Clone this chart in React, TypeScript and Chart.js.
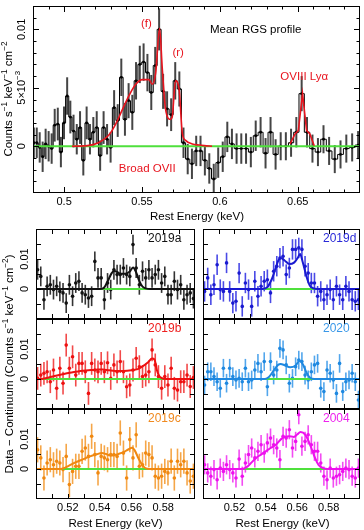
import React, { useEffect, useRef } from 'react';
import { Chart, registerables } from 'chart.js';

Chart.register(...registerables);

const W = 364;
const H = 530;
const FONT = '"Liberation Sans", Arial, Helvetica, sans-serif';
const GREEN = '#4fe03c';

// ---------------- Top panel: mean RGS profile (units of 1e-3), 0.1 Å bins ----------------
const meanEnergy = [
  0.48054, 0.48241, 0.4843, 0.4862, 0.48811, 0.49004, 0.49198, 0.49394, 0.49592, 0.49791,
  0.49992, 0.50194, 0.50398, 0.50604, 0.50811, 0.51021, 0.51231, 0.51444, 0.51658, 0.51874,
  0.52092, 0.52312, 0.52534, 0.52757, 0.52983, 0.5321, 0.5344, 0.53671, 0.53904, 0.5414,
  0.54377, 0.54617, 0.54858, 0.55102, 0.55348, 0.55596, 0.55847, 0.561, 0.56355, 0.56612,
  0.56872, 0.57134, 0.57398, 0.57665, 0.57935, 0.58207, 0.58481, 0.58758, 0.59038, 0.59321,
  0.59606, 0.59894, 0.60184, 0.60478, 0.60775, 0.61074, 0.61376, 0.61682, 0.6199, 0.62302,
  0.62616, 0.62934, 0.63255, 0.63579, 0.63907, 0.64238, 0.64573, 0.64911, 0.65253, 0.65598,
  0.65947, 0.66299, 0.66656, 0.67016, 0.6738, 0.67749, 0.68121, 0.68497, 0.68878,
];
const meanFlux = [
  0.3, 0.3, -0.1, -0.9, 0.2, 0.0, -0.2, 1.8, 1.9, -0.5,
  2.0, 4.3, 2.5, 1.3, 0.6, 1.6, -1.2, 2.0, 0.6, 1.2,
  1.6, -0.8, 1.6, 0.6, -0.1, 3.3, 2.2, 5.9, 2.3, 3.9,
  2.9, 5.6, 7.0, 7.2, 6.3, 4.6, 6.9, 10.0, 4.7, 3.2,
  2.7, 5.6, 4.9, 0.3, -1.1, -1.5, -0.4, -0.4, -1.2, -1.9,
  -2.8, -1.4, -0.9, 0.8, 0.2, -0.2, -0.2, -0.2, -0.5, 0.9,
  1.2, -0.6, 1.2, -0.7, 0.0, 0.0, 0.3, 1.2, 4.5, 1.2,
  -0.2, -0.5, 0.6, -0.4, -1.1, -0.7, -0.2, -0.1, 0.1,
];
const meanErr = [
  1.3, 1.3, 1.3, 1.3, 1.3, 1.3, 1.3, 1.4, 1.4, 1.3,
  1.4, 1.6, 1.4, 1.4, 1.3, 1.4, 1.3, 1.4, 1.3, 1.3,
  1.4, 1.3, 1.4, 1.3, 1.3, 1.5, 1.4, 1.6, 1.4, 1.5,
  1.5, 1.6, 1.6, 1.6, 1.6, 1.5, 1.6, 1.8, 1.5, 1.5,
  1.4, 1.6, 1.5, 1.3, 1.3, 1.3, 1.3, 1.3, 1.3, 1.3,
  1.3, 1.3, 1.3, 1.3, 1.3, 1.3, 1.3, 1.3, 1.3, 1.3,
  1.3, 1.3, 1.3, 1.3, 1.2, 1.2, 1.2, 1.3, 1.5, 1.3,
  1.2, 1.2, 1.2, 1.2, 1.2, 1.2, 1.2, 1.2, 1.2,
];
const meanModelEnergy = [
  0.505, 0.515, 0.522, 0.529, 0.5335, 0.5376, 0.5419, 0.546, 0.5502, 0.5545,
  0.5566, 0.5588, 0.5613, 0.563, 0.5651, 0.5683, 0.5694, 0.5715, 0.5738, 0.5759,
  0.578, 0.5823, 0.5866, 0.59, 0.595,
];
const meanModelFlux = [
  0.0, 0.05, 0.3, 1.0, 2.0, 3.2, 4.4, 5.3, 5.7, 5.7,
  5.3, 6.3, 10.1, 6.7, 3.2, 2.3, 2.5, 5.6, 4.9, 1.1,
  0.5, 0.2, 0.1, 0.05, 0.0,
];
const o8ModelEnergy = [0.6451, 0.6483, 0.6504, 0.6531, 0.6557, 0.6578, 0.6606];
const o8ModelFlux = [0.2, 1.05, 1.35, 4.5, 1.35, 1.05, 0.05];

// ---------------- Bottom panels: per-epoch profiles (units of 1e-3) ----------------
const epochEnergy = [
  0.501, 0.503, 0.505, 0.507, 0.509, 0.511, 0.513, 0.515, 0.517, 0.519,
  0.521, 0.523, 0.525, 0.527, 0.529, 0.531, 0.533, 0.535, 0.537, 0.539,
  0.541, 0.543, 0.545, 0.547, 0.549, 0.551, 0.553, 0.555, 0.557, 0.559,
  0.561, 0.563, 0.565, 0.567, 0.569, 0.571, 0.573, 0.575, 0.577, 0.579,
  0.581, 0.583, 0.585, 0.587, 0.589, 0.591, 0.593, 0.595, 0.597, 0.599,
];
const flux2019a = [
  6.4, 4.2, -3.6, 0.9, 1.4, -0.2, 0.9, -0.8, -1.3, -4.7,
  1.4, -2.4, 2.0, 2.6, -1.3, -1.9, -3.0, -2.4, 9.2, 3.7,
  3.7, -3.6, 2.0, -0.2, 6.4, 4.8, 4.8, 7.0, 4.8, 4.2,
  14.8, 7.0, 1.4, 5.9, 3.7, 6.4, 3.7, 4.8, 6.4, 2.0,
  4.2, -1.9, -1.9, 2.6, -0.2, 1.4, -3.6, -1.9, -1.3, -3.2,
];
const flux2019b = [
  0.2, 1.3, 1.9, 2.4, -0.9, 3.0, -3.1, 3.6, -1.4, 11.3,
  3.6, 7.4, 1.3, 5.2, 5.2, 2.4, -4.8, 5.2, 3.0, 2.4,
  5.2, 2.4, 5.4, 0.2, 4.7, 2.4, 5.8, 2.4, -2.6, -2.0,
  3.0, 6.9, 4.1, 0.8, 1.3, 2.4, 9.7, 4.7, 0.8, -3.1,
  0.8, -2.0, 3.6, -3.1, -3.7, -0.9, -0.9, 1.3, -2.5, 0.5,
];
const flux2019c = [
  6.4, 3.7, -3.0, 2.0, 3.1, 1.4, 2.6, 2.0, -0.2, 4.2,
  -5.2, -0.8, 0.9, 0.9, 5.9, 7.0, 4.2, 10.9, 4.8, -1.3,
  4.2, 3.7, 3.1, 4.8, 4.8, 4.2, 12.0, 5.3, -3.0, 9.8,
  3.7, 11.4, 0.9, 1.4, 5.3, 4.8, 3.7, -2.4, -3.0, -2.4,
  -0.8, -1.3, 2.6, -3.0, 2.6, 1.4, 2.6, -1.3, -4.0, -2.4,
];
const flux2019d = [
  -0.8, 3.7, -1.9, 1.4, 8.1, -0.2, -0.8, 8.7, -0.8, -4.7,
  -4.1, 5.3, -5.8, 2.0, -0.2, -5.8, 2.6, -2.4, 0.9, 2.6,
  3.1, -1.3, 5.9, 7.6, 10.3, 10.9, 4.8, 7.0, 13.2, 13.2,
  13.7, 13.2, 7.6, 5.3, 2.0, 2.0, -2.4, -0.8, -3.6, -1.9,
  -0.2, -3.6, 0.9, -1.9, -3.6, 0.9, -0.8, -3.6, -4.1, -3.6,
];
const flux2020 = [
  -2.0, 2.4, 2.4, 0.8, -0.9, -3.1, 3.6, -1.4, 3.6, 0.8,
  -0.3, 0.2, -0.9, 3.6, -0.9, -0.3, 3.0, 5.2, 2.4, 5.8,
  -2.6, 5.8, 1.3, 3.0, 10.2, 9.7, 4.7, -1.4, 0.2, 4.1,
  6.3, 5.8, 1.3, -0.3, 2.4, 4.7, 5.2, -3.1, -4.2, 3.0,
  1.9, -0.3, -4.8, 5.2, -4.2, -0.9, -0.3, 1.9, -0.9, -7.0,
];
const flux2004 = [
  1.4, -1.3, -2.4, -0.2, -3.6, 0.3, -0.8, 1.4, -0.2, -1.3,
  -3.0, 3.3, -2.4, 2.0, 4.8, 7.0, 3.7, 5.9, 8.1, 5.3,
  8.7, 10.3, 8.1, 7.0, 3.1, 10.9, 10.3, 13.1, 7.0, 9.2,
  18.1, 7.6, 9.2, 11.4, 8.1, 5.9, 5.9, 2.0, -2.4, -3.6,
  0.3, -3.0, -2.4, -1.9, -0.8, 0.3, -0.2, -2.4, -3.0, 0.3,
];
const err2019a = 3.3;
const err2019b = 3.8;
const err2019c = 4.2;
const err2019d = 3.4;
const err2020 = 3.1;
const err2004 = 3.2;

const model2019aE = [0.5, 0.54, 0.5425, 0.545, 0.5475, 0.549, 0.551, 0.553, 0.556, 0.559, 0.561, 0.563, 0.565, 0.567, 0.569, 0.572, 0.6];
const model2019aF = [0, 0, 0.3, 2.5, 5.2, 6.0, 5.7, 5.1, 5.1, 5.8, 7.2, 5.5, 2.6, 0.8, 0.2, 0, 0];
const model2019dE = [0.5, 0.538, 0.541, 0.544, 0.546, 0.548, 0.5495, 0.552, 0.555, 0.558, 0.5605, 0.5618, 0.5635, 0.566, 0.568, 0.57, 0.573, 0.6];
const model2019dF = [0, 0, 0.6, 3.5, 6.5, 9.5, 10.3, 9.5, 8.3, 8.8, 10.5, 11.7, 9.0, 4.0, 1.2, 0.3, 0, 0];
const model2019bE = [0.5, 0.503, 0.508, 0.5125, 0.5175, 0.5225, 0.528, 0.533, 0.538, 0.542, 0.546, 0.55, 0.555, 0.56, 0.564, 0.567, 0.5705, 0.573, 0.5745, 0.576, 0.5775, 0.579, 0.582, 0.6];
const model2019bF = [0, 0, 0.5, 1.1, 1.7, 2.2, 2.7, 2.9, 3.1, 3.2, 2.9, 2.7, 2.7, 2.9, 3.3, 4.2, 5.6, 6.8, 6.5, 3.0, 1.0, 0.3, 0, 0];
const model2020E = [0.5, 0.539, 0.542, 0.545, 0.548, 0.5495, 0.552, 0.5555, 0.559, 0.5615, 0.5635, 0.566, 0.568, 0.571, 0.6];
const model2020F = [0, 0, 0.7, 2.8, 4.8, 5.0, 4.6, 3.9, 4.5, 6.1, 5.0, 2.0, 0.5, 0, 0];
const model2019cE = [0.5, 0.515, 0.5185, 0.5235, 0.5298, 0.534, 0.5382, 0.5413, 0.544, 0.5465, 0.549, 0.5518, 0.555, 0.558, 0.5605, 0.562, 0.5645, 0.5675, 0.57, 0.573, 0.6];
const model2019cF = [0, 0, 0.5, 1.9, 3.3, 4.2, 4.9, 5.3, 5.0, 4.5, 4.6, 5.0, 5.6, 6.5, 7.1, 6.3, 3.5, 0.9, 0.1, 0, 0];
const model2004E = [0.5, 0.525, 0.528, 0.531, 0.5338, 0.537, 0.54, 0.543, 0.5464, 0.5505, 0.5547, 0.5579, 0.56, 0.5621, 0.5652, 0.5675, 0.5694, 0.5715, 0.5736, 0.5765, 0.5795, 0.6];
const model2004F = [0, 0, 0.7, 2.2, 3.7, 4.8, 5.9, 7.0, 8.1, 10.3, 10.9, 10.7, 11.5, 12.3, 11.4, 9.0, 6.4, 3.5, 1.4, 0.3, 0, 0];

// ---------------- Axis ticks ----------------
const topXTicks = [0.49, 0.5, 0.51, 0.52, 0.53, 0.54, 0.55, 0.56, 0.57, 0.58, 0.59, 0.6, 0.61, 0.62, 0.63, 0.64, 0.65, 0.66, 0.67, 0.68];
const topXMajor = [0.5, 0.55, 0.6, 0.65];
const topXLabels = ['0.5', '0.55', '0.6', '0.65'];
const topYTicks = [-3, -2, -1, 0, 1, 2, 3, 4, 5, 6, 7, 8, 9, 10, 11];
const topYMajor = [0, 5, 10];
const epochXTicks = [0.51, 0.52, 0.53, 0.54, 0.55, 0.56, 0.57, 0.58, 0.59];
const epochXMajor = [0.52, 0.54, 0.56, 0.58];
const epochXLabels = ['0.52', '0.54', '0.56', '0.58'];
const epochYTicks = [-5, 0, 5, 10, 15];
const epochYMajor = [0, 10];

// ---------------- Drawing helpers ----------------
type Seg = { t: string; sup?: boolean };
type TextItem = { segs: Seg[]; x: number; y: number; size: number; color: string; rot?: boolean; align?: 'left' | 'center' | 'right'; data?: boolean };

function drawRich(ctx: CanvasRenderingContext2D, item: TextItem, px: number, py: number) {
  const { segs, size, color, rot } = item;
  const align = item.align || 'center';
  ctx.save();
  ctx.translate(px, py);
  if (rot) ctx.rotate(-Math.PI / 2);
  ctx.fillStyle = color;
  ctx.textBaseline = 'middle';
  ctx.textAlign = 'left';
  const supSize = size * 0.72;
  let total = 0;
  const widths = segs.map((s) => {
    ctx.font = `${s.sup ? supSize : size}px ${FONT}`;
    const w = ctx.measureText(s.t).width;
    total += w;
    return w;
  });
  let cx = align === 'center' ? -total / 2 : align === 'right' ? -total : 0;
  segs.forEach((s, i) => {
    ctx.font = `${s.sup ? supSize : size}px ${FONT}`;
    ctx.fillText(s.t, cx, s.sup ? -size * 0.36 : 0);
    cx += widths[i];
  });
  ctx.restore();
}

interface PanelSpec {
  area: { l: number; t: number; r: number; b: number };
  xMin: number; xMax: number; yMin: number; yMax: number;
  xTicks: number[]; xMajor: number[]; yTicks: number[]; yMajor: number[];
  majorLen: number; minorLen: number;
  xLabels?: { v: number; text: string }[]; xLabelY?: number;
  yLabels?: { v: number; segs: Seg[] }[]; yLabelX?: number;
  texts: TextItem[];
  energy: number[]; flux: number[]; err: number[] | number;
  errColor: string; errWidth: number;
  pointColor: string; pointRadius: number; stepped: boolean;
  models: { e: number[]; f: number[]; color: string; width: number; smooth: boolean }[];
}

const axisPlugin = {
  id: 'axisDecor',
  beforeDatasetsDraw(chart: any) {
    const spec: PanelSpec = chart.config.options.plugins.axisDecor.spec;
    const { ctx, chartArea: a } = chart;
    const xs = chart.scales.x;
    const ys = chart.scales.y;
    ctx.save();
    ctx.beginPath();
    ctx.rect(a.left, a.top, a.right - a.left, a.bottom - a.top);
    ctx.clip();
    ctx.strokeStyle = spec.errColor;
    ctx.lineWidth = spec.errWidth;
    spec.energy.forEach((e, i) => {
      const er = Array.isArray(spec.err) ? spec.err[i] : spec.err;
      const px = xs.getPixelForValue(e);
      ctx.beginPath();
      ctx.moveTo(px, ys.getPixelForValue(spec.flux[i] - er));
      ctx.lineTo(px, ys.getPixelForValue(spec.flux[i] + er));
      ctx.stroke();
    });
    ctx.restore();
  },
  afterDraw(chart: any) {
    const spec: PanelSpec = chart.config.options.plugins.axisDecor.spec;
    const { ctx, chartArea: a } = chart;
    const xs = chart.scales.x;
    const ys = chart.scales.y;
    ctx.save();
    ctx.strokeStyle = '#000';
    ctx.lineWidth = 1;
    ctx.strokeRect(Math.round(a.left) + 0.5, Math.round(a.top) + 0.5, Math.round(a.right - a.left) - 1, Math.round(a.bottom - a.top) - 1);
    ctx.beginPath();
    spec.xTicks.forEach((v) => {
      const px = Math.round(xs.getPixelForValue(v)) + 0.5;
      const len = spec.xMajor.includes(v) ? spec.majorLen : spec.minorLen;
      ctx.moveTo(px, a.bottom); ctx.lineTo(px, a.bottom - len);
      ctx.moveTo(px, a.top); ctx.lineTo(px, a.top + len);
    });
    spec.yTicks.forEach((v) => {
      const py = Math.round(ys.getPixelForValue(v)) + 0.5;
      const len = spec.yMajor.includes(v) ? spec.majorLen : spec.minorLen;
      ctx.moveTo(a.left, py); ctx.lineTo(a.left + len, py);
      ctx.moveTo(a.right, py); ctx.lineTo(a.right - len, py);
    });
    ctx.stroke();
    if (spec.xLabels) {
      spec.xLabels.forEach((l) => {
        drawRich(ctx, { segs: [{ t: l.text }], x: 0, y: 0, size: 11, color: '#000' }, xs.getPixelForValue(l.v), spec.xLabelY!);
      });
    }
    if (spec.yLabels) {
      spec.yLabels.forEach((l) => {
        drawRich(ctx, { segs: l.segs, x: 0, y: 0, size: 11, color: '#000', rot: true }, spec.yLabelX!, ys.getPixelForValue(l.v));
      });
    }
    spec.texts.forEach((t) => {
      const px = t.data ? xs.getPixelForValue(t.x) : t.x;
      const py = t.data ? ys.getPixelForValue(t.y) : t.y;
      drawRich(ctx, t, px, py);
    });
    ctx.restore();
  },
};

function buildConfig(spec: PanelSpec): any {
  const pts = spec.energy.map((e, i) => ({ x: e, y: spec.flux[i] }));
  const datasets: any[] = [];
  spec.models.forEach((m) => {
    datasets.push({
      data: m.e.map((e, i) => ({ x: e, y: m.f[i] })),
      borderColor: m.color,
      borderWidth: m.width,
      pointRadius: 0,
      cubicInterpolationMode: m.smooth ? 'monotone' : 'default',
      tension: 0,
      fill: false,
      order: 0,
    });
  });
  datasets.push({
    data: [{ x: spec.xMin, y: 0 }, { x: spec.xMax, y: 0 }],
    borderColor: GREEN,
    borderWidth: 2,
    pointRadius: 0,
    fill: false,
    order: 1,
  });
  datasets.push({
    data: pts,
    showLine: spec.stepped,
    stepped: spec.stepped ? 'middle' : false,
    borderColor: '#000',
    borderWidth: 1,
    pointRadius: spec.pointRadius,
    pointBackgroundColor: spec.pointColor,
    pointBorderWidth: 0,
    fill: false,
    order: 2,
  });
  return {
    type: 'line',
    data: { datasets },
    options: {
      responsive: false,
      animation: false,
      events: [],
      layout: { padding: { left: spec.area.l, top: spec.area.t, right: W - spec.area.r, bottom: H - spec.area.b } },
      scales: {
        x: { type: 'linear', display: false, min: spec.xMin, max: spec.xMax },
        y: { type: 'linear', display: false, min: spec.yMin, max: spec.yMax },
      },
      plugins: {
        legend: { display: false },
        tooltip: { enabled: false },
        axisDecor: { spec },
      },
    },
    plugins: [axisPlugin],
  };
}

const RED = '#e8141e';
const unitSegs = (prefix: string): Seg[] => [
  { t: prefix + 'Counts s' }, { t: '−1', sup: true }, { t: ' keV' }, { t: '−1', sup: true }, { t: ' cm' }, { t: '−2', sup: true },
];

const topSpec: PanelSpec = {
  area: { l: 33, t: 6, r: 362, b: 193 },
  xMin: 0.48, xMax: 0.69, yMin: -4, yMax: 12,
  xTicks: topXTicks, xMajor: topXMajor, yTicks: topYTicks, yMajor: topYMajor,
  majorLen: 6, minorLen: 3.5,
  xLabels: topXMajor.map((v, i) => ({ v, text: topXLabels[i] })), xLabelY: 202,
  yLabels: [
    { v: 0, segs: [{ t: '0' }] },
    { v: 5, segs: [{ t: '5×10' }, { t: '−3', sup: true }] },
    { v: 10, segs: [{ t: '0.01' }] },
  ],
  yLabelX: 22,
  texts: [
    { segs: [{ t: 'Rest Energy (keV)' }], x: 197, y: 217, size: 11.5, color: '#000' },
    { segs: unitSegs(''), x: 9, y: 99, size: 11.5, color: '#000', rot: true },
    { segs: [{ t: 'Mean RGS profile' }], x: 0.623, y: 10.0, size: 11.5, color: '#000', data: true },
    { segs: [{ t: '(f)' }], x: 0.5528, y: 10.45, size: 11.5, color: RED, data: true },
    { segs: [{ t: '(r)' }], x: 0.5732, y: 7.98, size: 11.5, color: RED, data: true },
    { segs: [{ t: 'OVIII Lyα' }], x: 0.6542, y: 5.94, size: 11.5, color: RED, data: true },
    { segs: [{ t: 'Broad OVII' }], x: 0.5534, y: -1.9, size: 11.5, color: RED, data: true },
  ],
  energy: meanEnergy, flux: meanFlux, err: meanErr,
  errColor: '#454545', errWidth: 2,
  pointColor: '#000', pointRadius: 1.4, stepped: true,
  models: [
    { e: meanModelEnergy, f: meanModelFlux, color: RED, width: 1.6, smooth: true },
    { e: o8ModelEnergy, f: o8ModelFlux, color: RED, width: 1.6, smooth: false },
  ],
};

const COLS = [{ l: 36, r: 195 }, { l: 203, r: 362 }];
const ROWS = [{ t: 229, b: 319 }, { t: 319, b: 409 }, { t: 409, b: 499 }];

function epochSpec(col: number, row: number, name: string, flux: number[], err: number, me: number[], mf: number[],
  color: string, errColor: string, labelColor: string, extra: TextItem[]): PanelSpec {
  const c = COLS[col];
  const r = ROWS[row];
  const texts: TextItem[] = [
    { segs: [{ t: name }], x: c.l + (col === 0 ? 112 : 120), y: r.t + 10, size: 12, color: labelColor, align: 'left' },
    ...extra,
  ];
  return {
    area: { l: c.l, t: r.t, r: c.r, b: r.b },
    xMin: 0.5, xMax: 0.6, yMin: -10, yMax: 20,
    xTicks: epochXTicks, xMajor: epochXMajor, yTicks: epochYTicks, yMajor: epochYMajor,
    majorLen: 5, minorLen: 5,
    xLabels: row === 2 ? epochXMajor.map((v, i) => ({ v, text: epochXLabels[i] })) : undefined,
    xLabelY: 508,
    yLabels: col === 0 ? [{ v: 0, segs: [{ t: '0' }] }, { v: 10, segs: [{ t: '0.01' }] }] : undefined,
    yLabelX: 25,
    texts,
    energy: epochEnergy, flux, err,
    errColor, errWidth: 1.6,
    pointColor: color, pointRadius: 1.8, stepped: false,
    models: [{ e: me, f: mf, color, width: 2, smooth: true }],
  };
}

const bottomTitle: TextItem = { segs: [{ t: 'Data − Continuum (' }, ...unitSegs('').slice(0, 5), { t: '−2', sup: true }, { t: ')' }], x: 10, y: 364, size: 11.5, color: '#000', rot: true };

const specs: PanelSpec[] = [
  topSpec,
  epochSpec(0, 0, '2019a', flux2019a, err2019a, model2019aE, model2019aF, '#111111', '#333333', '#111111', []),
  epochSpec(1, 0, '2019d', flux2019d, err2019d, model2019dE, model2019dF, '#1a1ad0', '#4a4ae6', '#2a2ad8', []),
  epochSpec(0, 1, '2019b', flux2019b, err2019b, model2019bE, model2019bF, '#ee1010', '#f24a4a', '#ee2020', [bottomTitle]),
  epochSpec(1, 1, '2020', flux2020, err2020, model2020E, model2020F, '#1e88e0', '#52a6ec', '#3a98e8', []),
  epochSpec(0, 2, '2019c', flux2019c, err2019c, model2019cE, model2019cF, '#f08810', '#f5a648', '#f08a20',
    [{ segs: [{ t: 'Rest Energy (keV)' }], x: 115.5, y: 524, size: 11.5, color: '#000' }]),
  epochSpec(1, 2, '2004', flux2004, err2004, model2004E, model2004F, '#ee10ee', '#f24cf2', '#ee22ee',
    [{ segs: [{ t: 'Rest Energy (keV)' }], x: 282.5, y: 524, size: 11.5, color: '#000' }]),
];

function Panel({ spec }: { spec: PanelSpec }) {
  const ref = useRef<HTMLCanvasElement>(null);
  useEffect(() => {
    const chart = new Chart(ref.current as HTMLCanvasElement, buildConfig(spec));
    return () => chart.destroy();
  }, [spec]);
  return <canvas ref={ref} width={W} height={H} style={{ position: 'absolute', left: 0, top: 0, width: W, height: H }} />;
}

export default function App() {
  return (
    <div style={{ position: 'fixed', left: 0, top: 0, width: W, height: H, background: '#fff', overflow: 'hidden' }}>
      {specs.map((s, i) => (
        <Panel key={i} spec={s} />
      ))}
    </div>
  );
}
